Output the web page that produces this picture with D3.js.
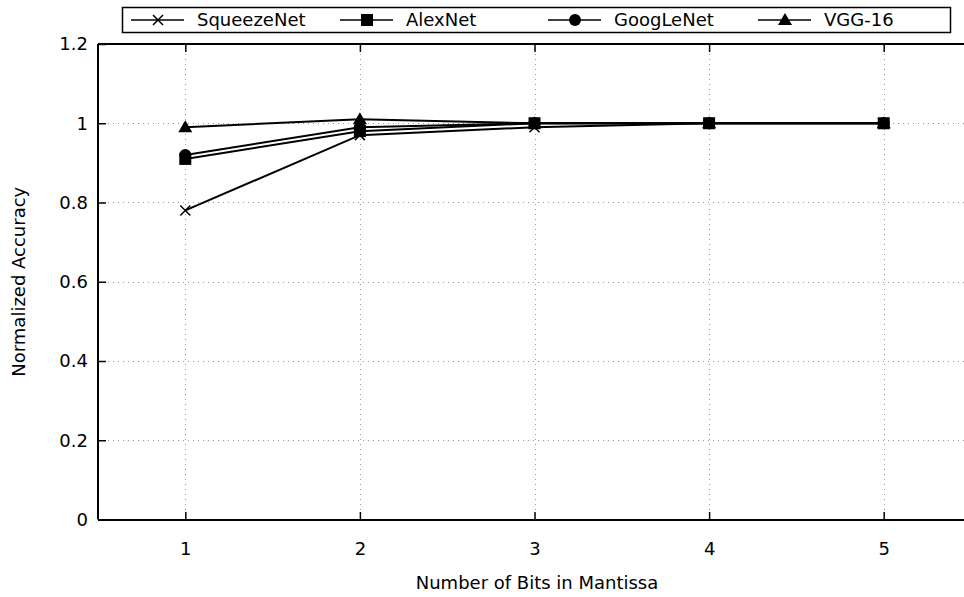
<html>
<head>
<meta charset="utf-8">
<title>Normalized Accuracy vs Mantissa Bits</title>
<style>
  body { margin: 0; background: #fff; }
  text { font-family: Tahoma, "DejaVu Sans", sans-serif; font-size: 18px; fill: #000; }
</style>
</head>
<body>
<script src="https://cdn.jsdelivr.net/npm/d3@7/dist/d3.min.js"></script>
<script>
// data
var bits = [1, 2, 3, 4, 5];
var squeezeNet = [0.78, 0.97, 0.99, 1.0, 1.0];
var alexNet    = [0.91, 0.98, 1.0, 1.0, 1.0];
var googLeNet  = [0.92, 0.99, 1.0, 1.0, 1.0];
var vgg16      = [0.99, 1.01, 1.0, 1.0, 1.0];
var seriesNames = ["SqueezeNet", "AlexNet", "GoogLeNet", "VGG-16"];
var yTicks = [0, 0.2, 0.4, 0.6, 0.8, 1, 1.2];

var width = 964, height = 597;
var margin = {left: 98, top: 44, bottom: 78};

var svg = d3.select("body").append("svg")
    .attr("width", width)
    .attr("height", height);

var x = d3.scaleLinear().domain([0.5, 5.5]).range([margin.left, 971]);
var y = d3.scaleLinear().domain([0, 1.2]).range([height - margin.bottom + 0.5, margin.top]);

// grid
var grid = svg.append("g").attr("stroke", "#999").attr("stroke-width", 1).attr("stroke-dasharray", "1,4");
grid.selectAll(".gy").data(yTicks.slice(1, -1)).enter().append("line")
    .attr("x1", margin.left).attr("x2", width)
    .attr("y1", function(d) { return Math.round(y(d)) + 0.5; })
    .attr("y2", function(d) { return Math.round(y(d)) + 0.5; });
grid.selectAll(".gx").data(bits).enter().append("line")
    .attr("y1", margin.top).attr("y2", y(0))
    .attr("x1", function(d) { return Math.round(x(d)) + 0.5; })
    .attr("x2", function(d) { return Math.round(x(d)) + 0.5; });

// axes (ticks inward)
var yAxis = d3.axisLeft(y).tickValues(yTicks).tickSize(-8).tickPadding(10)
    .tickFormat(function(d) { return d3.format("")(d); });
var xAxis = d3.axisBottom(x).tickValues(bits).tickSize(-8).tickPadding(22).tickFormat(d3.format("d"));

var gy = svg.append("g").attr("transform", "translate(" + margin.left + ",0)").call(yAxis);
var gx = svg.append("g").attr("transform", "translate(0," + Math.round(y(0)) + ")").call(xAxis);
var gt = svg.append("g").attr("transform", "translate(0," + margin.top + ")")
    .call(d3.axisTop(x).tickValues(bits).tickSize(-8).tickFormat(""));

[gy, gx, gt].forEach(function(g) {
  g.attr("font-size", null).attr("font-family", null);
  g.select(".domain").attr("stroke", "#000").attr("stroke-width", 2);
  g.selectAll(".tick line").attr("stroke", "#000").attr("stroke-width", 1.5);
});
gy.select(".domain").attr("d", "M0," + y(0) + "V" + margin.top);
gt.select(".domain").attr("d", "M" + margin.left + ",0H" + width);
gx.select(".domain").attr("d", "M" + margin.left + ",0H" + width);

// axis labels
svg.append("text")
    .attr("x", 537).attr("y", 589)
    .attr("text-anchor", "middle")
    .text("Number of Bits in Mantissa");
svg.append("text")
    .attr("transform", "translate(25," + y(0.6) + ") rotate(-90)")
    .attr("text-anchor", "middle")
    .text("Normalized Accuracy");

// markers
function drawMarker(g, type, cx, cy) {
  if (type === "SqueezeNet") {
    g.append("path").attr("d", "M" + (cx - 5) + "," + (cy - 5) + "L" + (cx + 5) + "," + (cy + 5) +
        "M" + (cx - 5) + "," + (cy + 5) + "L" + (cx + 5) + "," + (cy - 5))
      .attr("stroke", "#000").attr("stroke-width", 1.5).attr("fill", "none");
  } else if (type === "AlexNet") {
    g.append("rect").attr("x", cx - 6).attr("y", cy - 6).attr("width", 12).attr("height", 12).attr("fill", "#000");
  } else if (type === "GoogLeNet") {
    g.append("circle").attr("cx", cx).attr("cy", cy).attr("r", 6).attr("fill", "#000");
  } else {
    g.append("path").attr("d", "M" + cx + "," + (cy - 7) + "L" + (cx + 7) + "," + (cy + 5) + "L" + (cx - 7) + "," + (cy + 5) + "Z")
      .attr("fill", "#000");
  }
}

var allSeries = [squeezeNet, alexNet, googLeNet, vgg16];
var line = d3.line()
    .x(function(d, i) { return x(bits[i]); })
    .y(function(d) { return y(d); });

allSeries.forEach(function(vals, k) {
  var g = svg.append("g");
  g.append("path").datum(vals)
    .attr("d", line)
    .attr("fill", "none")
    .attr("stroke", "#000")
    .attr("stroke-width", 2);
  vals.forEach(function(v, i) { drawMarker(g, seriesNames[k], x(bits[i]), y(v)); });
});

// legend
var legend = svg.append("g");
legend.append("rect")
    .attr("x", 122.5).attr("y", 7.5).attr("width", 828).attr("height", 25)
    .attr("fill", "#fff").attr("stroke", "#000").attr("stroke-width", 1.5);
var legendX = [131, 340, 548, 758];
seriesNames.forEach(function(name, k) {
  var lx = legendX[k];
  legend.append("line")
    .attr("x1", lx).attr("x2", lx + 53)
    .attr("y1", 20).attr("y2", 20)
    .attr("stroke", "#000").attr("stroke-width", 1.5);
  drawMarker(legend, name, lx + 27, 20);
  legend.append("text")
    .attr("x", lx + 66).attr("y", 26)
    .text(name);
});
</script>
</body>
</html>
